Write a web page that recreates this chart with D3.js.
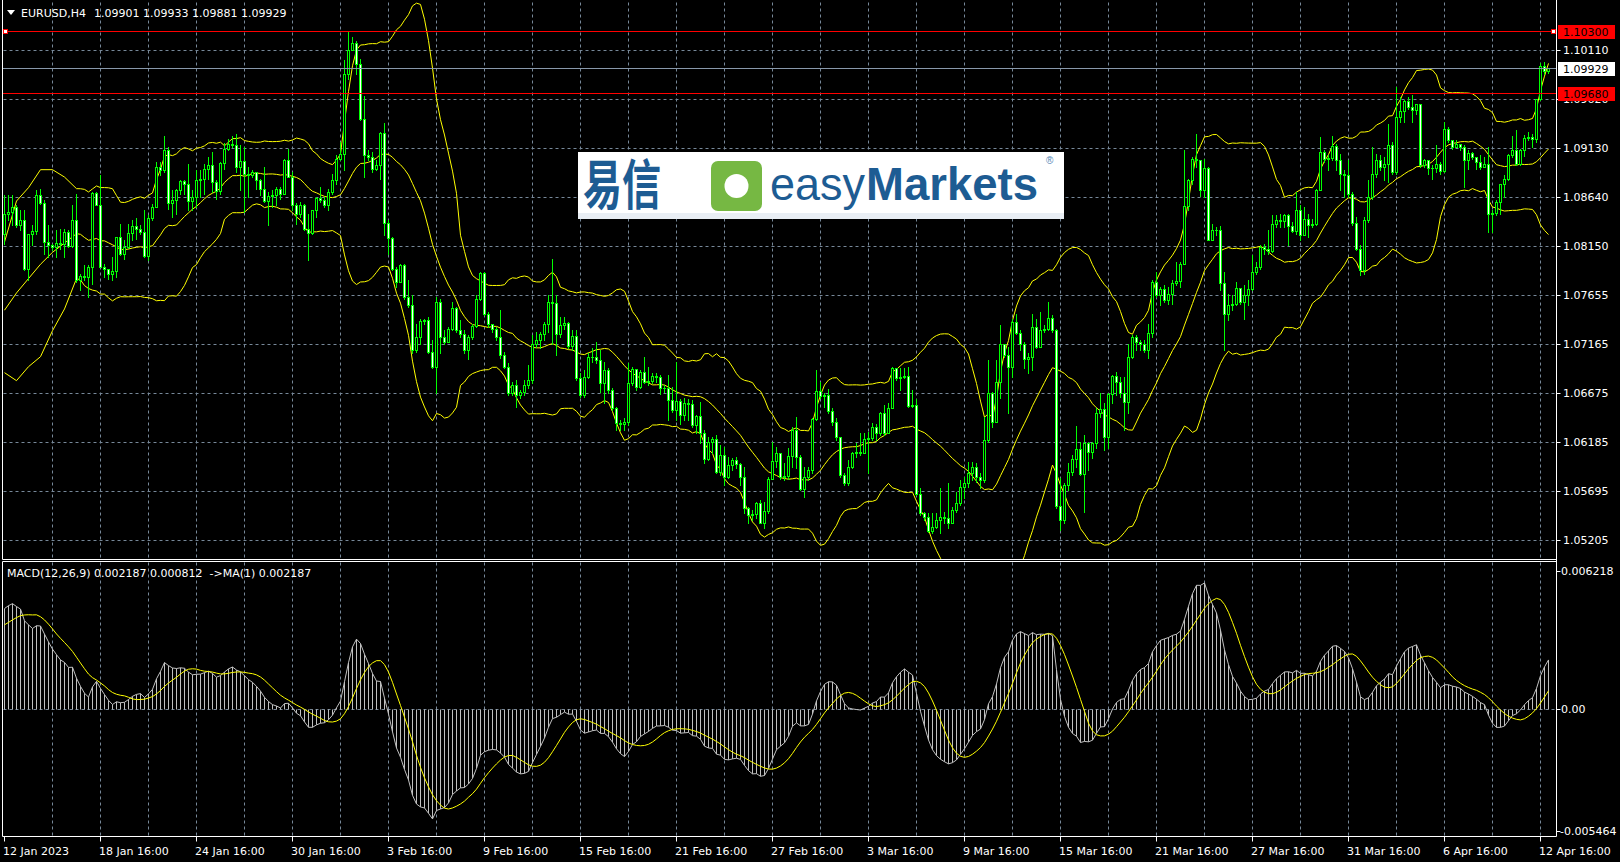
<!DOCTYPE html>
<html><head><meta charset="utf-8">
<script src="https://cdn.jsdelivr.net/npm/d3@7"></script>
<style>
body{margin:0;background:#000;overflow:hidden}
svg{display:block}
text{font-family:"DejaVu Sans",sans-serif;font-size:11px;fill:#fff}
</style>
</head><body>
<svg id="chart" width="1620" height="862"></svg>
<script>
// ---------- DATA (EURUSD H4) ----------
const firstOpen = 1.08265;
const closes = [1.08472,1.08488,1.08538,1.08355,1.08405,1.07922,1.08265,1.08298,1.08662,1.08578,
1.08188,1.08155,1.08138,1.08178,1.08165,1.08288,1.08145,1.08405,1.07805,1.07848,
1.07838,1.07938,1.08682,1.08562,1.07938,1.07918,1.07872,1.07898,1.08238,1.08072,
1.08138,1.08282,1.08345,1.08322,1.08288,1.08048,1.08428,1.08538,1.08938,1.08912,
1.09105,1.08578,1.08605,1.08705,1.08795,1.08765,1.08595,1.08638,1.08805,1.08815,
1.08915,1.08955,1.08788,1.08698,1.08978,1.09122,1.09172,1.09162,1.08938,1.08998,
1.08872,1.08855,1.08888,1.08805,1.08722,1.08598,1.08645,1.08655,1.08722,1.08672,
1.09005,1.08838,1.08562,1.08472,1.08555,1.08322,1.08282,1.08505,1.08632,1.08605,
1.08555,1.08688,1.08812,1.09022,1.09072,1.09872,1.10112,1.10182,1.09965,1.09422,
1.09055,1.09038,1.08922,1.08955,1.09282,1.08378,1.08232,1.07922,1.07788,1.07955,
1.07638,1.07555,1.07105,1.07238,1.07395,1.07405,1.07088,1.06938,1.07588,1.07238,
1.07188,1.07322,1.07532,1.07305,1.07272,1.07105,1.07238,1.07345,1.07622,1.07882,
1.07472,1.07372,1.07322,1.07238,1.07055,1.06938,1.06672,1.06755,1.06655,1.06688,
1.06755,1.06805,1.07172,1.07205,1.07272,1.07365,1.07588,1.07578,1.07272,1.07355,
1.07378,1.07145,1.07245,1.06822,1.06655,1.06838,1.07032,1.07038,1.07005,1.06772,
1.06905,1.06705,1.06522,1.06372,1.06365,1.06388,1.06772,1.06912,1.06738,1.06888,
1.06788,1.06795,1.06845,1.06832,1.06722,1.06728,1.06605,1.06505,1.06595,1.06455,
1.06572,1.06562,1.06355,1.06448,1.06272,1.06012,1.06188,1.06215,1.05888,1.06055,
1.05838,1.05955,1.06005,1.05965,1.05838,1.05522,1.05455,1.05465,1.05578,1.05378,
1.05498,1.05815,1.05998,1.06072,1.05838,1.05845,1.06045,1.06305,1.06038,1.05712,
1.05838,1.05905,1.06415,1.06698,1.06645,1.06652,1.06498,1.06388,1.06232,1.05855,
1.05778,1.05938,1.06072,1.06082,1.06078,1.06212,1.06225,1.06332,1.06278,1.06472,
1.06272,1.06522,1.06922,1.06822,1.06838,1.06845,1.06545,1.06552,1.05665,1.05472,
1.05432,1.05298,1.05338,1.05405,1.05438,1.05422,1.05380,1.05505,1.05572,1.05738,
1.05772,1.05872,1.05938,1.05838,1.05805,1.06205,1.06672,1.06388,1.06788,1.07165,
1.07055,1.06938,1.07388,1.07278,1.07172,1.07012,1.07038,1.07338,1.07138,1.07312,
1.07322,1.07432,1.07305,1.05545,1.05405,1.05755,1.05888,1.06012,1.06112,1.05865,
1.06178,1.06088,1.06178,1.06472,1.06512,1.06238,1.06665,1.06845,1.06788,1.06678,
1.06588,1.07038,1.07238,1.07188,1.07165,1.07105,1.07282,1.07788,1.07655,1.07722,
1.07612,1.07672,1.07778,1.07798,1.07972,1.08545,1.08812,1.09022,1.09005,1.08712,
1.08932,1.08212,1.08312,1.08305,1.07778,1.07472,1.07555,1.07565,1.07732,1.07588,
1.07655,1.07722,1.07888,1.07938,1.08138,1.08122,1.08098,1.08372,1.08405,1.08398,
1.08455,1.08345,1.08298,1.08512,1.08255,1.08422,1.08355,1.08372,1.08712,1.09088,
1.09022,1.09032,1.09145,1.09012,1.08872,1.08855,1.08672,1.08378,1.08122,1.07905,
1.08405,1.08638,1.08872,1.09012,1.08938,1.08972,1.09155,1.08888,1.09438,1.09498,
1.09598,1.09538,1.09505,1.09565,1.08955,1.09012,1.08932,1.08932,1.08972,1.08898,
1.09322,1.09205,1.09138,1.09172,1.09138,1.09012,1.09078,1.09038,1.08988,1.08938,
1.08965,1.08472,1.08478,1.08588,1.08765,1.08822,1.09055,1.09105,1.08972,1.09105,
1.09232,1.09238,1.09222,1.09622,1.09945,1.09901,1.09929];
const highs = [1.08655,1.08655,1.08655,1.08555,1.08505,1.08505,1.08265,1.08355,1.08705,1.08722,
1.08605,1.08355,1.08172,1.08305,1.08322,1.08322,1.08305,1.08555,1.08672,1.07872,
1.07955,1.07955,1.08688,1.08688,1.08855,1.07972,1.07922,1.08038,1.08238,1.08372,
1.08205,1.08372,1.08405,1.08432,1.08355,1.08505,1.08455,1.08572,1.08988,1.08988,
1.09245,1.09138,1.08705,1.08722,1.08805,1.08805,1.08972,1.08705,1.08905,1.08905,
1.08972,1.09038,1.09088,1.08805,1.08988,1.09178,1.09222,1.09245,1.09272,1.09155,
1.09138,1.08938,1.08905,1.08888,1.08822,1.08938,1.08690,1.08705,1.08738,1.08738,
1.09022,1.09122,1.08888,1.08578,1.08588,1.08572,1.08472,1.08505,1.08638,1.08738,
1.08638,1.08722,1.08872,1.09055,1.09188,1.10005,1.10305,1.10238,1.10198,1.10022,
1.09645,1.09105,1.09088,1.09005,1.09288,1.09382,1.08405,1.08238,1.07938,1.07972,
1.07972,1.07805,1.07655,1.07372,1.07422,1.07422,1.07438,1.07205,1.07638,1.07622,
1.07305,1.07338,1.07588,1.07538,1.07405,1.07305,1.07255,1.07372,1.07655,1.07888,
1.07888,1.07488,1.07355,1.07338,1.07505,1.07088,1.06972,1.06788,1.06805,1.06705,
1.06805,1.06955,1.07255,1.07288,1.07288,1.07388,1.07655,1.08022,1.07655,1.07438,
1.07438,1.07388,1.07305,1.07305,1.06872,1.06905,1.07072,1.07122,1.07188,1.07105,
1.06988,1.06922,1.06722,1.06538,1.06405,1.06422,1.06972,1.06938,1.06872,1.06905,
1.07038,1.06938,1.06872,1.06872,1.06855,1.06755,1.06855,1.06738,1.06988,1.06615,
1.06622,1.06615,1.06605,1.06455,1.06588,1.06305,1.06238,1.06238,1.06255,1.06155,
1.06138,1.06038,1.06022,1.06038,1.05972,1.05938,1.05538,1.05505,1.05588,1.05605,
1.05588,1.05838,1.06188,1.06138,1.06072,1.05972,1.06122,1.06338,1.06432,1.06055,
1.05938,1.05938,1.06422,1.06905,1.06788,1.06672,1.06712,1.06522,1.06422,1.06238,
1.05872,1.06005,1.06088,1.06172,1.06272,1.06272,1.06288,1.06372,1.06365,1.06488,
1.06555,1.06572,1.06938,1.06888,1.06922,1.06922,1.06938,1.06705,1.06615,1.05722,
1.05488,1.05472,1.05472,1.05478,1.05722,1.05488,1.05772,1.05538,1.05688,1.05805,
1.05838,1.05988,1.05988,1.05972,1.05872,1.06438,1.07005,1.06688,1.07005,1.07355,
1.07172,1.07138,1.07422,1.07472,1.07305,1.07188,1.07072,1.07472,1.07422,1.07488,
1.07355,1.07588,1.07455,1.07322,1.05822,1.05772,1.05972,1.06055,1.06345,1.06188,
1.06255,1.06188,1.06188,1.06522,1.06678,1.06572,1.06672,1.06855,1.06888,1.06838,
1.06838,1.07165,1.07255,1.07255,1.07212,1.07205,1.07372,1.07805,1.07888,1.07738,
1.07755,1.07738,1.07812,1.07988,1.07988,1.09105,1.08822,1.09038,1.09272,1.09005,
1.09022,1.08938,1.08372,1.08338,1.08345,1.07888,1.07672,1.07655,1.07788,1.07705,
1.07755,1.07805,1.08055,1.07988,1.08155,1.08172,1.08305,1.08455,1.08455,1.08472,
1.08472,1.08472,1.08388,1.08688,1.08555,1.08538,1.08472,1.08422,1.08722,1.09238,
1.09105,1.09055,1.09245,1.09172,1.09072,1.08905,1.09005,1.08688,1.08438,1.08155,
1.08438,1.08805,1.09138,1.09072,1.09055,1.09038,1.09365,1.09188,1.09738,1.09638,
1.09605,1.09638,1.09655,1.09572,1.09572,1.09022,1.08978,1.08955,1.09155,1.08988,
1.09388,1.09338,1.09205,1.09205,1.09172,1.09155,1.09105,1.09088,1.09038,1.09055,
1.09038,1.09138,1.08505,1.08605,1.08772,1.08855,1.09072,1.09245,1.09305,1.09122,
1.09255,1.09288,1.09272,1.09622,1.09978,1.09988,1.09933];
const lows = [1.08172,1.08405,1.08355,1.08338,1.08305,1.07905,1.07805,1.08155,1.08272,1.08572,
1.08072,1.08038,1.08105,1.08038,1.08122,1.08038,1.08138,1.08138,1.07788,1.07705,
1.07805,1.07638,1.07772,1.08562,1.07938,1.07838,1.07822,1.07805,1.07838,1.08055,
1.08022,1.08132,1.08205,1.08222,1.08272,1.08038,1.08005,1.08405,1.08538,1.08855,
1.08888,1.08522,1.08438,1.08472,1.08672,1.08672,1.08505,1.08505,1.08538,1.08638,
1.08672,1.08822,1.08690,1.08622,1.08672,1.08922,1.09105,1.09138,1.08888,1.08705,
1.08490,1.08638,1.08838,1.08722,1.08655,1.08588,1.08355,1.08538,1.08555,1.08622,
1.08672,1.08838,1.08505,1.08372,1.08438,1.08305,1.08005,1.08272,1.08438,1.08588,
1.08538,1.08505,1.08672,1.08772,1.09005,1.08905,1.09822,1.10105,1.09872,1.09405,
1.08838,1.09005,1.08888,1.08905,1.08822,1.08255,1.08072,1.07905,1.07738,1.07788,
1.07622,1.07538,1.07072,1.07088,1.07172,1.07372,1.07072,1.06922,1.06672,1.07072,
1.07172,1.07205,1.07305,1.07288,1.07238,1.07072,1.07012,1.07222,1.07338,1.07605,
1.07455,1.07338,1.07288,1.07205,1.07022,1.06922,1.06655,1.06655,1.06538,1.06622,
1.06655,1.06722,1.06772,1.07138,1.07122,1.07205,1.07288,1.07172,1.07055,1.07238,
1.07322,1.07122,1.07105,1.06805,1.06638,1.06638,1.06822,1.06988,1.06972,1.06688,
1.06572,1.06672,1.06505,1.06305,1.06305,1.06305,1.06355,1.06755,1.06705,1.06722,
1.06772,1.06755,1.06772,1.06788,1.06665,1.06688,1.06405,1.06488,1.06405,1.06365,
1.06405,1.06405,1.06338,1.06272,1.06172,1.05972,1.06005,1.06072,1.05872,1.05855,
1.05755,1.05822,1.05905,1.05922,1.05755,1.05472,1.05372,1.05405,1.05422,1.05372,
1.05322,1.05472,1.05812,1.05938,1.05812,1.05805,1.05812,1.05938,1.05922,1.05705,
1.05638,1.05805,1.05872,1.06405,1.06622,1.06538,1.06472,1.06355,1.06205,1.05838,
1.05755,1.05755,1.05922,1.06038,1.06055,1.06072,1.05872,1.06205,1.06205,1.06255,
1.06255,1.06272,1.06522,1.06805,1.06705,1.06822,1.06538,1.06538,1.05655,1.05455,
1.05405,1.05288,1.05272,1.05322,1.05272,1.05372,1.05322,1.05372,1.05488,1.05555,
1.05622,1.05738,1.05805,1.05788,1.05722,1.05788,1.06188,1.06338,1.06388,1.06622,
1.07038,1.06472,1.06838,1.07272,1.07105,1.06922,1.06872,1.06905,1.07122,1.07138,
1.07288,1.07305,1.07288,1.05522,1.05305,1.05372,1.05705,1.05855,1.05938,1.05855,
1.05488,1.05905,1.06022,1.06122,1.06438,1.06105,1.06122,1.06572,1.06655,1.06638,
1.06305,1.06472,1.07022,1.07105,1.07105,1.07088,1.07022,1.07238,1.07638,1.07555,
1.07588,1.07572,1.07572,1.07755,1.07738,1.07965,1.08505,1.08772,1.08938,1.08645,
1.08638,1.08205,1.08205,1.08255,1.07705,1.07105,1.07405,1.07505,1.07555,1.07572,
1.07422,1.07555,1.07705,1.07872,1.07922,1.08072,1.08072,1.08088,1.08338,1.08338,
1.08338,1.08155,1.08288,1.08272,1.08205,1.08255,1.08238,1.08338,1.08355,1.08705,
1.08988,1.08905,1.09005,1.08905,1.08705,1.08638,1.08638,1.08355,1.08105,1.07855,
1.07872,1.08388,1.08622,1.08838,1.08905,1.08805,1.08788,1.08872,1.08872,1.09388,
1.09388,1.09522,1.09388,1.09472,1.08938,1.08938,1.08872,1.08822,1.08888,1.08872,
1.08888,1.09188,1.09122,1.09138,1.09105,1.08738,1.08922,1.09022,1.08922,1.08922,
1.08938,1.08288,1.08288,1.08455,1.08472,1.08638,1.08805,1.09038,1.08955,1.08955,
1.09045,1.09205,1.09138,1.09188,1.09605,1.09872,1.09881];

// Bollinger band values visible at the left edge (before 20 bars of history are on screen)
const bbHeadBars   = [0, 3, 6, 9, 12, 15, 18];
const bbHeadUpper  = [1.08188, 1.08598, 1.08732, 1.08912, 1.08912, 1.08838, 1.08722];
const bbHeadMiddle = [1.07505, 1.07678, 1.07822, 1.07965, 1.08085, 1.08178, 1.08272];
const bbHeadLower  = [1.06880, 1.06800, 1.06940, 1.07040, 1.07300, 1.07518, 1.07822];
const bbPeriod = 20, bbDev = 2;

// MACD(12,26,9) state carried in from bars before the window (estimated)
const ema12Seed = 1.0780, ema26Seed = 1.0737, macdPrior = 0.0037;

const priceTicks = [1.10110,1.09620,1.09130,1.08640,1.08150,1.07655,1.07165,1.06675,1.06185,1.05695,1.05205];
const macdTicks = [0.006218, 0.0, -0.005464];
const macdTickLabels = ["0.006218", "0.00", "-0.005464"];
const dateLabels = ["12 Jan 2023","18 Jan 16:00","24 Jan 16:00","30 Jan 16:00","3 Feb 16:00","9 Feb 16:00",
 "15 Feb 16:00","21 Feb 16:00","27 Feb 16:00","3 Mar 16:00","9 Mar 16:00","15 Mar 16:00","21 Mar 16:00",
 "27 Mar 16:00","31 Mar 16:00","6 Apr 16:00","12 Apr 16:00"];
const labelEvery = 24, gridEvery = 12;
const levelLines = [1.10300, 1.09680];
const bidPrice = 1.09929;
const symbolTitle = "EURUSD,H4";
const macdTitle = "MACD(12,26,9) 0.002187 0.000812  ->MA(1) 0.002187";

// ---------- DRAW ----------
const svg = d3.select("#chart");
const W = 1620, H = 862;
const n = closes.length;
const opens = closes.map((c, i) => i === 0 ? firstOpen : closes[i - 1]);

const plotL = 2.5, plotR = 1556.5, mainT = 1.5, mainB = 559.5, macdT = 561.5, macdB = 836.5;

const x = d3.scaleLinear().domain([0, n - 1]).range([4, 4 + 4 * (n - 1)]);
const y = d3.scaleLinear().domain([1.05205, 1.10110]).range([540, 50]);
const ym = d3.scaleLinear().domain([-0.005464, 0.006218]).range([831, 570.7]);
const col = i => Math.round(x(i));

svg.append("rect").attr("width", W).attr("height", H).attr("fill", "#000");

const defs = svg.append("defs");
defs.append("clipPath").attr("id", "clipMain").append("rect")
  .attr("x", 3).attr("y", 2).attr("width", plotR - 3.5).attr("height", mainB - 2.5);
defs.append("clipPath").attr("id", "clipMacd").append("rect")
  .attr("x", 3).attr("y", macdT + 0.5).attr("width", plotR - 3.5).attr("height", macdB - macdT - 1);

const GRID = "#778899";
// vertical grid
const gridBars = d3.range(gridEvery, n, gridEvery);
[[mainT, mainB], [macdT, macdB]].forEach(([t, b]) => {
  svg.append("g").selectAll("line").data(gridBars).join("line")
    .attr("x1", d => col(d) + 0.5).attr("x2", d => col(d) + 0.5)
    .attr("y1", t + 1).attr("y2", b - 1)
    .attr("stroke", GRID).attr("stroke-width", 1).attr("stroke-dasharray", "3,3");
});
// horizontal grid (main)
svg.append("g").selectAll("line").data(priceTicks).join("line")
  .attr("x1", plotL + 1).attr("x2", plotR)
  .attr("y1", d => Math.round(y(d)) + 0.5).attr("y2", d => Math.round(y(d)) + 0.5)
  .attr("stroke", GRID).attr("stroke-dasharray", "3,3");
// MACD zero level
svg.append("line").attr("x1", plotL + 1).attr("x2", plotR)
  .attr("y1", Math.round(ym(0)) + 0.5).attr("y2", Math.round(ym(0)) + 0.5)
  .attr("stroke", GRID).attr("stroke-dasharray", "3,3");

// ---------- Main panel ----------
const gMain = svg.append("g").attr("clip-path", "url(#clipMain)");

// Bollinger bands
const bb = [];
bbHeadBars.forEach((b, k) => bb.push({i: b, u: bbHeadUpper[k], m: bbHeadMiddle[k], l: bbHeadLower[k]}));
for (let i = bbPeriod - 1; i < n; i++) {
  const w = closes.slice(i - bbPeriod + 1, i + 1);
  const m = d3.mean(w);
  const sd = Math.sqrt(d3.mean(w, v => (v - m) * (v - m)));
  bb.push({i, u: m + bbDev * sd, m, l: m - bbDev * sd});
}
["u", "m", "l"].forEach(k => {
  gMain.append("path").datum(bb)
    .attr("d", d3.line().x(d => col(d.i) + 0.5).y(d => y(d[k])))
    .attr("fill", "none").attr("stroke", "#ffff00").attr("stroke-width", 1);
});

// candles
const LIME = "#00ff00";
const cg = gMain.append("g");
const idx = d3.range(n);
cg.selectAll("rect.wick").data(idx).join("rect").attr("class", "wick")
  .attr("x", i => col(i)).attr("width", 1)
  .attr("y", i => Math.round(y(Math.max(highs[i], opens[i], closes[i]))))
  .attr("height", i => Math.max(1, Math.round(y(Math.min(lows[i], opens[i], closes[i]))) - Math.round(y(Math.max(highs[i], opens[i], closes[i]))) + 1))
  .attr("fill", LIME);
cg.selectAll("rect.body").data(idx).join("rect").attr("class", "body")
  .attr("x", i => col(i) - 1).attr("width", 3)
  .attr("y", i => Math.round(y(Math.max(opens[i], closes[i]))))
  .attr("height", i => Math.max(1, Math.round(y(Math.min(opens[i], closes[i]))) - Math.round(y(Math.max(opens[i], closes[i]))) + 1))
  .attr("fill", LIME);
cg.selectAll("rect.inner").data(idx.filter(i => Math.round(y(Math.min(opens[i], closes[i]))) - Math.round(y(Math.max(opens[i], closes[i]))) >= 2))
  .join("rect").attr("class", "inner")
  .attr("x", i => col(i)).attr("width", 1)
  .attr("y", i => Math.round(y(Math.max(opens[i], closes[i]))) + 1)
  .attr("height", i => Math.round(y(Math.min(opens[i], closes[i]))) - Math.round(y(Math.max(opens[i], closes[i]))) - 1)
  .attr("fill", i => closes[i] < opens[i] ? "#ffffff" : "#000000");

// bid line & level lines
gMain.append("line").attr("x1", plotL).attr("x2", plotR)
  .attr("y1", Math.round(y(bidPrice)) + 0.5).attr("y2", Math.round(y(bidPrice)) + 0.5)
  .attr("stroke", "#8898aa").attr("stroke-width", 1);
gMain.selectAll("line.lvl").data(levelLines).join("line").attr("class", "lvl")
  .attr("x1", plotL).attr("x2", plotR)
  .attr("y1", d => Math.round(y(d)) + 0.5).attr("y2", d => Math.round(y(d)) + 0.5)
  .attr("stroke", "#ff0000").attr("stroke-width", 1);
[5.5, plotR - 3].forEach(hx => {
  svg.append("rect").attr("x", hx - 2).attr("y", Math.round(y(levelLines[0])) - 1.5)
    .attr("width", 4).attr("height", 4).attr("fill", "#fff").attr("stroke", "#ff0000");
});

// logo
const logo = svg.append("g");
logo.append("rect").attr("x", 578).attr("y", 152).attr("width", 486).attr("height", 67).attr("fill", "#ffffff");
logo.append("rect").attr("x", 578).attr("y", 213).attr("width", 486).attr("height", 6).attr("fill", "#e9eef4");
logo.append("text").attr("x", 583).attr("y", 205).text("易信")
  .attr("textLength", 78).attr("lengthAdjust", "spacingAndGlyphs")
  .style("font-family", "'Noto Sans CJK SC'").style("font-size", "54px").style("font-weight", "700").style("fill", "#1d5c93");
logo.append("rect").attr("x", 711).attr("y", 161).attr("width", 51).attr("height", 50).attr("rx", 7).attr("fill", "#76b843");
logo.append("circle").attr("cx", 736.5).attr("cy", 186).attr("r", 12).attr("fill", "#ffffff");
logo.append("text").attr("x", 770).attr("y", 200).text("easy")
  .attr("textLength", 95).attr("lengthAdjust", "spacingAndGlyphs")
  .style("font-family", "'Liberation Sans', Arial, sans-serif").style("font-size", "46px").style("fill", "#1d5c93");
logo.append("text").attr("x", 866).attr("y", 200).text("Markets")
  .attr("textLength", 172).attr("lengthAdjust", "spacingAndGlyphs")
  .style("font-family", "'Liberation Sans', Arial, sans-serif").style("font-size", "46px").style("font-weight", "700").style("fill", "#1d5c93");
logo.append("text").attr("x", 1046).attr("y", 164).text("®")
  .style("font-family", "'Liberation Sans', Arial, sans-serif").style("font-size", "10px").style("fill", "#4f86b5");

// ---------- MACD panel ----------
const a12 = 2 / 13, a26 = 2 / 27;
let e12 = ema12Seed, e26 = ema26Seed;
const macd = closes.map(c => { e12 += a12 * (c - e12); e26 += a26 * (c - e26); return e12 - e26; });
const signal = macd.map((v, i) => {
  let s = 0;
  for (let k = i - 8; k <= i; k++) s += k < 0 ? macdPrior : macd[k];
  return s / 9;
});
const gM = svg.append("g").attr("clip-path", "url(#clipMacd)");
const z0 = Math.round(ym(0)) + 0.5;
gM.selectAll("line.h").data(idx).join("line").attr("class", "h")
  .attr("x1", i => col(i) + 0.5).attr("x2", i => col(i) + 0.5)
  .attr("y1", z0).attr("y2", i => ym(macd[i]))
  .attr("stroke", "#c0c0c0").attr("stroke-width", 1);
gM.append("path").datum(idx)
  .attr("d", d3.line().x(i => col(i) + 0.5).y(i => ym(macd[i])))
  .attr("fill", "none").attr("stroke", "#c0c0c0").attr("stroke-width", 1);
gM.append("path").datum(idx)
  .attr("d", d3.line().x(i => col(i) + 0.5).y(i => ym(signal[i])))
  .attr("fill", "none").attr("stroke", "#ffff00").attr("stroke-width", 1);

// ---------- frames ----------
const fr = svg.append("g").attr("fill", "none").attr("stroke", "#ffffff").attr("stroke-width", 1);
fr.append("line").attr("x1", plotL).attr("x2", plotL).attr("y1", 0).attr("y2", mainB);
fr.append("line").attr("x1", plotL).attr("x2", plotL).attr("y1", macdT).attr("y2", macdB);
fr.append("line").attr("x1", plotR).attr("x2", plotR).attr("y1", 0).attr("y2", macdB);
fr.append("line").attr("x1", plotL).attr("x2", plotR).attr("y1", mainB).attr("y2", mainB);
fr.append("line").attr("x1", plotL).attr("x2", plotR).attr("y1", macdT).attr("y2", macdT);
fr.append("line").attr("x1", plotL).attr("x2", plotR).attr("y1", macdB).attr("y2", macdB);

// ---------- axes ----------
const axR = svg.append("g");
axR.selectAll("line").data(priceTicks).join("line")
  .attr("x1", plotR).attr("x2", plotR + 4)
  .attr("y1", d => Math.round(y(d)) + 0.5).attr("y2", d => Math.round(y(d)) + 0.5).attr("stroke", "#fff");
axR.selectAll("text").data(priceTicks).join("text")
  .attr("x", 1563).attr("y", d => y(d)).attr("dy", "0.36em").text(d => d.toFixed(5));

const axM = svg.append("g");
axM.selectAll("line").data(macdTicks).join("line")
  .attr("x1", plotR).attr("x2", plotR + 4)
  .attr("y1", d => Math.round(ym(d)) + 0.5).attr("y2", d => Math.round(ym(d)) + 0.5).attr("stroke", "#fff");
axM.selectAll("text").data(macdTicks).join("text")
  .attr("x", (d, k) => k === 2 ? 1560 : 1561).attr("y", d => ym(d)).attr("dy", "0.36em")
  .text((d, k) => macdTickLabels[k]);

// price boxes
levelLines.forEach(p => {
  const yy = Math.round(y(p));
  svg.append("rect").attr("x", 1558).attr("y", yy - 6).attr("width", 57).attr("height", 14).attr("fill", "#ff0000");
  svg.append("text").attr("x", 1563).attr("y", yy + 1).attr("dy", "0.36em").text(p.toFixed(5)).style("fill", "#000");
});
{
  const yy = Math.round(y(bidPrice));
  svg.append("rect").attr("x", 1558).attr("y", yy - 6).attr("width", 57).attr("height", 14).attr("fill", "#ffffff");
  svg.append("text").attr("x", 1563).attr("y", yy + 1).attr("dy", "0.36em").text(bidPrice.toFixed(5)).style("fill", "#000");
}

// date axis
const labBars = d3.range(0, n, labelEvery).slice(0, dateLabels.length);
const axB = svg.append("g");
axB.selectAll("line").data(labBars).join("line")
  .attr("x1", i => col(i) + 0.5).attr("x2", i => col(i) + 0.5)
  .attr("y1", macdB).attr("y2", macdB + 5).attr("stroke", "#fff");
axB.selectAll("text").data(labBars).join("text")
  .attr("x", i => col(i) - 1).attr("y", 855).text((i, k) => dateLabels[k]);

// titles
svg.append("path").attr("d", "M7,10 L15,10 L11,15 Z").attr("fill", "#fff");
const last = n - 1;
svg.append("text").attr("x", 21).attr("y", 17).text(symbolTitle);
svg.append("text").attr("x", 94).attr("y", 17)
  .text([opens[last], highs[last], lows[last], closes[last]].map(v => v.toFixed(5)).join(" "));
svg.append("text").attr("x", 7).attr("y", 577).style("white-space", "pre").text(macdTitle);
</script>
</body></html>
